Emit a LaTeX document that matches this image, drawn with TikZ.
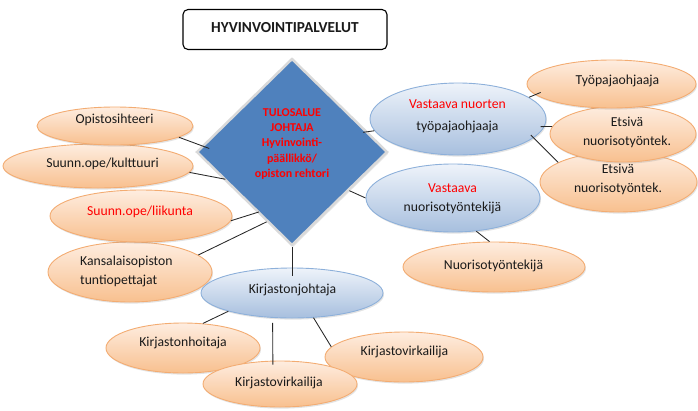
\documentclass[tikz,border=0pt]{standalone}
\usepackage{fontspec}
\setmainfont{Carlito}
\usetikzlibrary{shapes.geometric,shadows}
\definecolor{orT}{HTML}{FEEDE0}
\definecolor{orB}{HTML}{F8C08F}
\definecolor{orD}{HTML}{F3AC72}
\definecolor{blT}{HTML}{EEF3FA}
\definecolor{blB}{HTML}{A7BFDE}
\definecolor{blD}{HTML}{8DB0DA}
\definecolor{diaB}{HTML}{4F81BD}
\definecolor{txt}{HTML}{1A1A1A}
\definecolor{rd}{HTML}{FF0000}
\tikzset{
  shade/.style={drop shadow={opacity=0.22, shadow xshift=1pt, shadow yshift=-1.6pt}},
  oell/.style={ellipse, draw=orD, line width=0.9pt, top color=orT, bottom color=orB, inner sep=0pt, shade},
  bell/.style={ellipse, draw=blD, line width=0.9pt, top color=blT, bottom color=blB, inner sep=0pt, shade},
  lbl/.style={font=\fontsize{13.7}{19}\selectfont, text=txt, align=center, inner sep=0pt},
  conn/.style={draw=black!85, line width=0.85pt},
}
\begin{document}
\begin{tikzpicture}[x=1pt,y=-1pt]
\useasboundingbox (0,0) rectangle (698,410);

% title
\node[draw=black, line width=1.1pt, rounded corners=5pt, fill=white, minimum width=204pt, minimum height=40pt, inner sep=0pt] (titlebox) at (285,29.5) {};
\node[font=\bfseries\fontsize{15.3}{18}\selectfont, text=txt, inner sep=0pt] (titletxt) at (285,27.2) {HYVINVOINTIPALVELUT};

% diamond
\node[diamond, draw=black!15, line width=2.5pt, fill=diaB, minimum width=191pt, minimum height=187pt, inner sep=0pt, drop shadow={opacity=0.2, shadow xshift=1.2pt, shadow yshift=-1.8pt}] (dia) at (292,152) {};
\node[font=\bfseries\fontsize{12}{15.25}\selectfont, text=rd, align=center, inner sep=0pt] (diat) at (292,143.8) {TULOSALUE\\JOHTAJA\\Hyvinvointi-\\päällikkö/\\opiston rehtori};

% left ellipses
\node[oell, minimum width=190pt, minimum height=44pt] (kult) at (98,166) {};
\node[oell, minimum width=156pt, minimum height=38pt] (op) at (115,126) {};
\node[oell, minimum width=164pt, minimum height=60pt] (kans) at (130,272) {};
\node[oell, minimum width=182pt, minimum height=52pt] (liik) at (141,216) {};
\node[lbl] (opt) at (114.5,120) {Opistosihteeri};
\node[lbl] (kultt) at (102.5,164) {Suunn.ope/kulttuuri};
\node[lbl, text=rd] (liikt) at (140,212) {Suunn.ope/liikunta};
\node[lbl, align=left, anchor=west] (kanst) at (80,271) {Kansalaisopiston\\tuntiopettajat};

% right side
\node[oell, minimum width=157pt, minimum height=60pt] (ets2) at (618.5,182) {};
\node[oell, minimum width=146pt, minimum height=56pt] (ets1) at (623,134) {};
\node[bell, minimum width=176pt, minimum height=72pt] (vn) at (458,119) {};
\node[oell, minimum width=169pt, minimum height=48pt] (tyo) at (611.5,84) {};
\node[oell, minimum width=182pt, minimum height=50pt] (nuo) at (494,267) {};
\node[bell, minimum width=174pt, minimum height=68pt] (vns) at (453,198) {};
\node[lbl] (vnt) at (457.5,116) {\textcolor{rd}{Vastaava nuorten}\\[3pt]työpajaohjaaja};
\node[lbl] (vnst) at (452.5,198.5) {\textcolor{rd}{Vastaava}\\nuorisotyöntekijä};
\node[lbl] (tyot) at (617.5,81) {Työpajaohjaaja};
\node[lbl] (ets1t) at (627,132.5) {Etsivä\\nuorisotyöntek.};
\node[lbl] (ets2t) at (618,179) {Etsivä\\nuorisotyöntek.};
\node[lbl] (nuot) at (493.5,266) {Nuorisotyöntekijä};

% library
\node[bell, minimum width=182pt, minimum height=50pt] (kj) at (292,293) {};
\node[oell, minimum width=154pt, minimum height=50pt] (khoit) at (183,348) {};
\node[oell, minimum width=158pt, minimum height=50pt] (kvr) at (404,357) {};
\node[oell, minimum width=154pt, minimum height=46pt] (kvm) at (280,384) {};
\node[lbl] (kjt) at (292.5,290) {Kirjastonjohtaja};
\node[lbl] (khoitt) at (183,343) {Kirjastonhoitaja};
\node[lbl] (kvrt) at (404.5,352.3) {Kirjastovirkailija};
\node[lbl] (kvmt) at (279,383) {Kirjastovirkailija};

% connectors
\draw[conn, shorten >=-8pt] (op.-10) -- (dia.176);
\draw[conn, shorten >=-3pt] (kult.-4) -- (dia.201);
\draw[conn, shorten >=-2pt] (liik.-3) -- (dia.240);
\draw[conn] (kans.14) -- (dia.250);
\draw[conn, shorten <=-5pt] (dia.15) -- (vn.188);
\draw[conn] (dia.-34) -- (vns.180);
\draw[conn, shorten >=-8pt] (dia.south) -- (kj.north);
\draw[conn, shorten >=-6pt] (vn.17) -- (tyo.188);
\draw[conn, shorten <=-4pt] (vn.-5) -- (ets1.174);
\draw[conn, shorten <=-4pt] (vn.-14) -- (ets2.162);
\draw[conn] (vns.-55) -- (nuo.100);
\draw[conn] (kj.196) -- (khoit.51);
\draw[conn, shorten <=5pt, shorten >=-4pt] (kj.-128) -- (kvm.107);
\draw[conn] (kj.-49) -- (kvr.172);
\end{tikzpicture}
\end{document}
